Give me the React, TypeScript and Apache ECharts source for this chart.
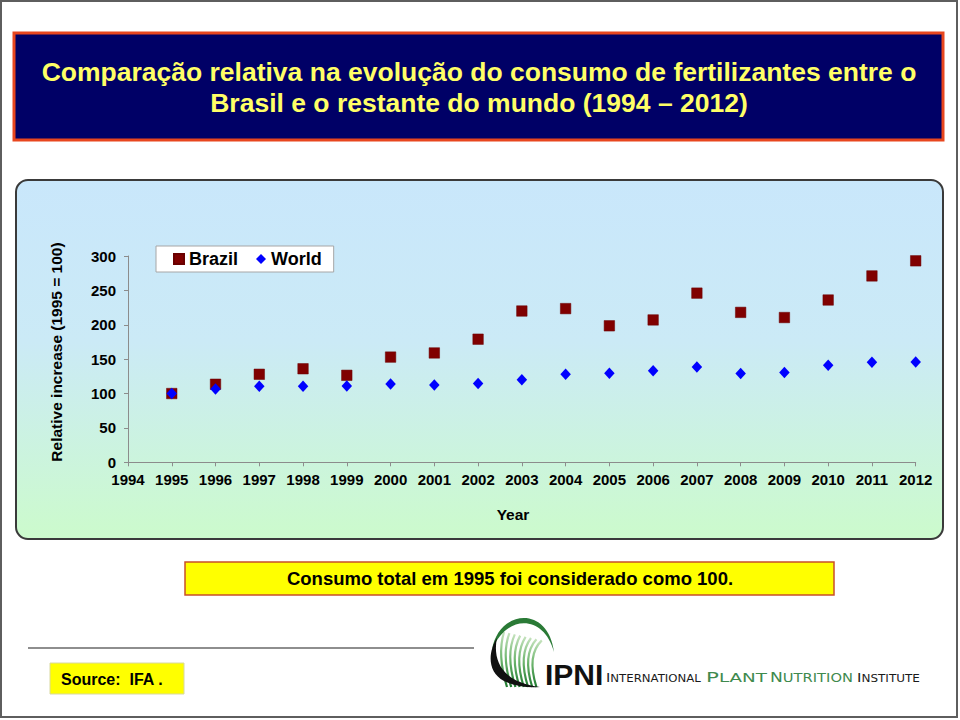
import React, { useEffect, useRef } from "react";
import * as echarts from "echarts";

// ---------- data ----------
const titleLines = [
  "Comparação relativa na evolução do consumo de fertilizantes entre o",
  "Brasil e o restante do mundo (1994 – 2012)",
];
const yearTicks = [1994, 1995, 1996, 1997, 1998, 1999, 2000, 2001, 2002, 2003, 2004, 2005, 2006, 2007, 2008, 2009, 2010, 2011, 2012];
const valueTicks = [0, 50, 100, 150, 200, 250, 300];
const dataYears = [1995, 1996, 1997, 1998, 1999, 2000, 2001, 2002, 2003, 2004, 2005, 2006, 2007, 2008, 2009, 2010, 2011, 2012];
const brazil = [100, 113.5, 128, 136, 126.5, 153, 159, 179, 220, 223.5, 198.5, 207, 246, 218, 210.5, 236, 271, 293];
const world = [100, 106.5, 110.5, 110.5, 111, 114, 112.5, 114.5, 120, 128, 129.5, 133, 138.5, 129, 130.5, 141, 145.5, 146];
const seriesNames = ["Brazil", "World"];
const yAxisTitle = "Relative increase (1995 = 100)";
const xAxisTitle = "Year";
const noteText = "Consumo total em 1995 foi considerado como 100.";
const sourceText = "Source:  IFA .";
const logoWords = ["INTERNATIONAL", "PLANT", "NUTRITION", "INSTITUTE"];

const FONT = "'Liberation Sans', Arial, sans-serif";

echarts.graphic.registerShape(
  "ipniSwoosh",
  echarts.graphic.extendPath("M17 26 C8 40 7 60 24 69 C34 74 46 76 60 75 C46 73 35 69 28 63 C17 54 14 40 17 26 Z", {})
);
echarts.graphic.registerShape(
  "ipniArc",
  echarts.graphic.extendPath("M10 38 C16 -2 66 -8 72 40 C62 2 24 2 10 38 Z", {})
);

function measure(text: string, font: string): number {
  const ctx = document.createElement("canvas").getContext("2d");
  if (!ctx) return text.length * 7;
  ctx.font = font;
  return ctx.measureText(text).width;
}

function logoWord(word: string, x: number, width: number, big: number, small: number, color: string) {
  const first = word[0];
  const rest = word.slice(1);
  const natural =
    measure(first, `${big}px "DejaVu Sans"`) + measure(rest, `${small}px "DejaVu Sans"`);
  return {
    type: "text",
    x,
    y: 684,
    scaleX: width / natural,
    style: {
      text: `{a|${first}}{b|${rest}}`,
      align: "left",
      verticalAlign: "bottom",
      rich: {
        a: { fontSize: big, fontFamily: "DejaVu Sans", fill: color, lineHeight: big, verticalAlign: "bottom" },
        b: { fontSize: small, fontFamily: "DejaVu Sans", fill: color, lineHeight: big, verticalAlign: "bottom" },
      },
    },
  };
}

export default function App() {
  const ref = useRef<HTMLDivElement>(null);
  useEffect(() => {
    if (!ref.current) return;
    const chart = echarts.init(ref.current, null, { renderer: "svg" });

    const stripes: any[] = [];
    for (let i = 0; i < 8; i++) {
      const bx = 507 + i * 4.2;
      stripes.push({
        type: "bezierCurve",
        shape: {
          x1: bx,
          y1: 687,
          cpx1: bx - 10,
          cpy1: 655,
          x2: bx - 3 + i * 1.2,
          y2: 632 + i * 1.2,
        },
        style: {
          stroke: new echarts.graphic.LinearGradient(0, 0, 0, 1, [
            { offset: 0, color: "#c4e2bc" },
            { offset: 0.5, color: "#6cb46c" },
            { offset: 1, color: "#1f7a30" },
          ]),
          lineWidth: 2.2,
          fill: null,
        },
      });
    }

    const option: any = {
      animation: false,
      grid: { left: 128, right: 44.3, top: 256, bottom: 257.7 },
      legend: {
        left: 156,
        top: 246,
        orient: "horizontal",
        backgroundColor: "#ffffff",
        borderColor: "#a6a6a6",
        borderWidth: 1,
        borderRadius: 0,
        padding: [4, 12, 4, 17],
        itemGap: 18,
        itemWidth: 10,
        itemHeight: 10,
        textStyle: { fontSize: 18, fontWeight: "bold", color: "#000", fontFamily: FONT },
        data: [
          { name: seriesNames[0], icon: "rect" },
          { name: seriesNames[1], icon: "diamond" },
        ],
      },
      xAxis: {
        type: "value",
        min: yearTicks[0],
        max: yearTicks[yearTicks.length - 1],
        interval: 1,
        axisLine: { show: true, lineStyle: { color: "#8c8c8c", width: 1 } },
        axisTick: { show: true, length: 4, lineStyle: { color: "#8c8c8c" } },
        axisLabel: {
          formatter: (v: number) => String(v),
          fontSize: 15,
          fontWeight: "bold",
          color: "#000",
          fontFamily: FONT,
          margin: 10,
        },
        splitLine: { show: false },
      },
      yAxis: {
        type: "value",
        min: valueTicks[0],
        max: valueTicks[valueTicks.length - 1],
        interval: valueTicks[1] - valueTicks[0],
        axisLine: { show: true, lineStyle: { color: "#8c8c8c", width: 1 } },
        axisTick: { show: true, length: 4, lineStyle: { color: "#8c8c8c" } },
        axisLabel: { fontSize: 15, fontWeight: "bold", color: "#000", fontFamily: FONT, margin: 12 },
        splitLine: { show: false },
      },
      series: [
        {
          name: seriesNames[0],
          type: "scatter",
          symbol: "rect",
          symbolSize: 10.5,
          itemStyle: { color: "#800000", borderColor: "#6a0000", borderWidth: 0.5, opacity: 1 },
          data: dataYears.map((y, i) => [y, brazil[i]]),
        },
        {
          name: seriesNames[1],
          type: "scatter",
          symbol: "diamond",
          symbolSize: [10.5, 11.5],
          itemStyle: { color: "#0000ff", opacity: 1 },
          data: dataYears.map((y, i) => [y, world[i]]),
        },
      ],
      graphic: [
        // slide frame
        {
          type: "rect",
          z: -20,
          shape: { x: 1, y: 1, width: 956, height: 716 },
          style: { fill: "#ffffff", stroke: "#5e5e5e", lineWidth: 2 },
        },
        // title box
        {
          type: "rect",
          shape: { x: 14, y: 33, width: 929, height: 107 },
          style: { fill: "#000066", stroke: "#e8461e", lineWidth: 3 },
        },
        ...titleLines.map((t, i) => ({
          type: "text",
          x: 479,
          y: 72 + i * 31,
          style: {
            text: t,
            fill: "#ffff66",
            font: `bold 26.5px ${FONT}`,
            align: "center",
            verticalAlign: "middle",
          },
        })),
        // chart panel
        {
          type: "rect",
          z: -10,
          shape: { x: 16, y: 180, width: 927, height: 359, r: 12 },
          style: {
            fill: new echarts.graphic.LinearGradient(0, 0, 0, 1, [
              { offset: 0, color: "#c9e7fb" },
              { offset: 0.45, color: "#cbeaf6" },
              { offset: 1, color: "#ccfbcc" },
            ]),
            stroke: "#3a3a3a",
            lineWidth: 2,
          },
        },
        {
          type: "text",
          x: 56,
          y: 352,
          rotation: Math.PI / 2,
          style: {
            text: yAxisTitle,
            fill: "#000",
            font: `bold 15.5px ${FONT}`,
            align: "center",
            verticalAlign: "middle",
          },
        },
        {
          type: "text",
          x: 513,
          y: 514,
          style: {
            text: xAxisTitle,
            fill: "#000",
            font: `bold 15.5px ${FONT}`,
            align: "center",
            verticalAlign: "middle",
          },
        },
        // note box
        {
          type: "rect",
          shape: { x: 185, y: 562, width: 649, height: 33 },
          style: { fill: "#ffff00", stroke: "#c8502a", lineWidth: 1.5 },
        },
        {
          type: "text",
          x: 510,
          y: 578.5,
          style: {
            text: noteText,
            fill: "#000",
            font: `bold 18.5px ${FONT}`,
            align: "center",
            verticalAlign: "middle",
          },
        },
        // separator line
        {
          type: "line",
          shape: { x1: 28, y1: 648, x2: 474, y2: 648 },
          style: { stroke: "#8e8e8e", lineWidth: 2 },
        },
        // source box
        {
          type: "rect",
          shape: { x: 50, y: 663, width: 134, height: 31 },
          style: { fill: "#ffff00", stroke: "#d8d8a0", lineWidth: 1 },
        },
        {
          type: "text",
          x: 61,
          y: 679,
          style: {
            text: sourceText,
            fill: "#000",
            font: `bold 16px ${FONT}`,
            align: "left",
            verticalAlign: "middle",
          },
        },
        // logo
        ...stripes,
        {
          type: "ipniArc",
          x: 482,
          y: 612,
          style: { fill: "#2a7a36" },
        },
        {
          type: "ipniSwoosh",
          x: 480,
          y: 612,
          style: { fill: "#111111" },
        },
        {
          type: "text",
          x: 545,
          y: 674,
          style: {
            text: "IPNI",
            fill: "#111",
            font: `bold 30px ${FONT}`,
            align: "left",
            verticalAlign: "middle",
          },
        },
        logoWord(logoWords[0], 606, 95, 12.5, 10, "#1a1a1a"),
        logoWord(logoWords[1], 706, 61, 14, 12, "#3f8a4e"),
        logoWord(logoWords[2], 770, 83, 14, 12, "#3f8a4e"),
        logoWord(logoWords[3], 857, 63, 12.5, 10, "#1a1a1a"),
      ],
    };
    chart.setOption(option);
    return () => chart.dispose();
  }, []);
  return (
    <div
      ref={ref}
      style={{ position: "fixed", left: 0, top: 0, width: 960, height: 720, background: "#fff" }}
    />
  );
}
